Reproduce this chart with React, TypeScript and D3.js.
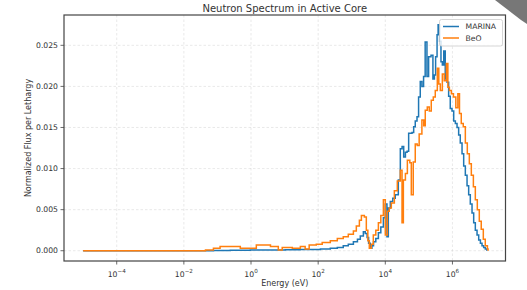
import React from 'react';
import * as d3 from 'd3';

const seriesNames = ['MARINA', 'BeO'];
const seriesColors = ['#1f77b4', '#ff7f0e'];

const marinaEnergy = [1e-5, 7.6e-2, 0.24, 0.95, 10.5, 29, 117, 230, 372, 560, 790, 1120, 1480, 1800, 2220, 2530, 2870, 3180, 3560, 3990, 4460, 5210, 6220, 7350, 8760, 1.0e4, 1.12e4, 1.23e4, 1.41e4, 1.67e4, 1.98e4, 2.44e4, 2.8e4, 3.16e4, 3.53e4, 3.97e4, 4.45e4, 4.96e4, 6.25e4, 7.0e4, 7.8e4, 8.8e4, 9.8e4, 1.1e5, 1.23e5, 1.38e5, 1.54e5, 1.74e5, 1.95e5, 2.3e5, 2.62e5, 2.9e5, 3.15e5, 3.48e5, 3.74e5, 4.15e5, 4.55e5, 5.0e5, 5.5e5, 6.1e5, 6.9e5, 7.7e5, 8.6e5, 9.7e5, 1.09e6, 1.22e6, 1.37e6, 1.53e6, 1.71e6, 1.93e6, 2.16e6, 2.42e6, 2.72e6, 3.04e6, 3.4e6, 3.83e6, 4.29e6, 4.8e6, 5.4e6, 6.05e6, 6.8e6, 7.6e6, 8.5e6, 9.5e6, 1.05e7];
const marinaFlux = [0, 0.00003, 0.00006, 0.0001, 0.00012, 0.00016, 0.0002, 0.0003, 0.0004, 0.0006, 0.0008, 0.0011, 0.0014, 0.0018, 0.0023, 0.0021, 0.0016, 0.0009, 0.0003, 0.0006, 0.0011, 0.0015, 0.0022, 0.0029, 0.0040, 0.0057, 0.0017, 0.0052, 0.0060, 0.0064, 0.0068, 0.0086, 0.0124, 0.0127, 0.0114, 0.0120, 0.0121, 0.0143, 0.0144, 0.0151, 0.0158, 0.0163, 0.0187, 0.0206, 0.0200, 0.0212, 0.0254, 0.0212, 0.0236, 0.0238, 0.0209, 0.0214, 0.0236, 0.0263, 0.0275, 0.0255, 0.0230, 0.0226, 0.0243, 0.0209, 0.0205, 0.0188, 0.0173, 0.0170, 0.0158, 0.0155, 0.0150, 0.0141, 0.0131, 0.0118, 0.0103, 0.0092, 0.0079, 0.0068, 0.0057, 0.0046, 0.0034, 0.0025, 0.0019, 0.0013, 0.0009, 0.0006, 0.0004, 0.0002, 0];

const beoEnergy = [1e-5, 0.044, 0.076, 0.12, 0.48, 1.44, 3.8, 6.5, 8.5, 17, 29.5, 41, 54, 88, 132, 230, 372, 560, 790, 1120, 1370, 1690, 1940, 2380, 2720, 3020, 3340, 3830, 4390, 5210, 6220, 7350, 8760, 1.0e4, 1.15e4, 1.31e4, 1.51e4, 1.86e4, 2.28e4, 2.8e4, 3.15e4, 3.45e4, 3.97e4, 4.54e4, 5.37e4, 5.95e4, 6.8e4, 7.8e4, 8.9e4, 1.02e5, 1.23e5, 1.4e5, 1.55e5, 1.78e5, 2.04e5, 2.34e5, 2.69e5, 3.08e5, 3.54e5, 3.92e5, 4.35e5, 5.0e5, 5.7e5, 6.6e5, 7.3e5, 8.1e5, 9.3e5, 1.07e6, 1.26e6, 1.45e6, 1.62e6, 1.83e6, 2.1e6, 2.42e6, 2.77e6, 3.18e6, 3.65e6, 4.2e6, 4.8e6, 5.5e6, 6.3e6, 7.2e6, 8.3e6, 9.5e6, 1.1e7, 1.15e7];
const beoFlux = [0, 0.0001, 0.0003, 0.0005, 0.0003, 0.0007, 0.0005, 0.0001, 0.0004, 0.0003, 0.0005, 0.0002, 0.0007, 0.0008, 0.0010, 0.0012, 0.0015, 0.0017, 0.0020, 0.0024, 0.0030, 0.0037, 0.0043, 0.0041, 0.0025, 0.0012, 0.0003, 0.0008, 0.0019, 0.0025, 0.0034, 0.0043, 0.0062, 0.0019, 0.0048, 0.0052, 0.0058, 0.0073, 0.0085, 0.0098, 0.0034, 0.0086, 0.0094, 0.0110, 0.0107, 0.0068, 0.0108, 0.0130, 0.0128, 0.0142, 0.0159, 0.0152, 0.0171, 0.0175, 0.0170, 0.0183, 0.0187, 0.0195, 0.0222, 0.0203, 0.0195, 0.0215, 0.0207, 0.0228, 0.0199, 0.0195, 0.0191, 0.0187, 0.0174, 0.0191, 0.0167, 0.0155, 0.0151, 0.0131, 0.0118, 0.0106, 0.0092, 0.0078, 0.0062, 0.0050, 0.0036, 0.0026, 0.0014, 0.0006, 0.0002, 0];

const yTicks = [0, 0.005, 0.01, 0.015, 0.02, 0.025];
const xTickExponents = [-4, -2, 0, 2, 4, 6];

const FONT = '"DejaVu Sans", sans-serif';

function zip(e: number[], f: number[]): [number, number][] {
  const n = Math.min(e.length, f.length);
  const out: [number, number][] = [];
  for (let i = 0; i < n; i++) out.push([e[i], f[i]]);
  return out;
}

export default function App() {
  const W = 527, H = 290;
  const left = 64, right = 505.5, top = 15, bottom = 261;
  const x = d3.scaleLog().domain([Math.pow(10, -5.57), Math.pow(10, 7.58)]).range([left, right]);
  const y = d3.scaleLinear().domain([-0.00125, 0.02869]).range([bottom, top]);
  const line = d3.line<[number, number]>()
    .x(d => x(d[0]))
    .y(d => y(d[1]))
    .curve(d3.curveStepAfter);

  const series = [zip(marinaEnergy, marinaFlux), zip(beoEnergy, beoFlux)];
  const textColor = '#333';

  return (
    <svg width={W} height={H} style={{ position: 'absolute', left: 0, top: 0, background: '#fff' }} fontFamily={FONT}>
      <rect x={0} y={0} width={W} height={H} fill="#fff" />
      <text x={(left + right) / 2} y={12} textAnchor="middle" fontSize={10} fill={textColor}>Neutron Spectrum in Active Core</text>
      <defs>
        <clipPath id="plotclip">
          <rect x={left} y={top} width={right - left} height={bottom - top} />
        </clipPath>
      </defs>
      {/* grid */}
      {xTickExponents.map(e => (
        <line key={'gx' + e} x1={x(Math.pow(10, e))} x2={x(Math.pow(10, e))} y1={top} y2={bottom}
          stroke="#b0b0b0" strokeOpacity={0.35} strokeWidth={0.8} strokeDasharray="2.5,2" />
      ))}
      {yTicks.map(t => (
        <line key={'gy' + t} x1={left} x2={right} y1={y(t)} y2={y(t)}
          stroke="#b0b0b0" strokeOpacity={0.35} strokeWidth={0.8} strokeDasharray="2.5,2" />
      ))}
      {/* lines */}
      <g clipPath="url(#plotclip)">
        {series.map((s, i) => (
          <path key={i} d={line(s) || ''} fill="none" stroke={seriesColors[i]} strokeWidth={1.5} strokeLinejoin="miter" />
        ))}
      </g>
      {/* frame */}
      <rect x={left} y={top} width={right - left} height={bottom - top} fill="none" stroke="#444" strokeWidth={1.2} />
      {/* y ticks */}
      {yTicks.map(t => (
        <g key={'yt' + t}>
          <line x1={left - 3.5} x2={left} y1={y(t)} y2={y(t)} stroke="#444" strokeWidth={0.8} />
          <text x={left - 6} y={y(t)} textAnchor="end" dominantBaseline="central" fontSize={7.7} fill={textColor}>{t.toFixed(3)}</text>
        </g>
      ))}
      {/* x ticks */}
      {xTickExponents.map(e => {
        const px = x(Math.pow(10, e));
        const label = e < 0 ? '\u2212' + Math.abs(e) : String(e);
        return (
          <g key={'xt' + e}>
            <line x1={px} x2={px} y1={bottom} y2={bottom + 3.5} stroke="#444" strokeWidth={0.8} />
            <text x={px} y={276.5} textAnchor="middle" fontSize={7.7} fill={textColor}>
              10<tspan fontSize={5.6} dy={-3.8}>{label}</tspan>
            </text>
          </g>
        );
      })}
      <text x={(left + right) / 2} y={286} textAnchor="middle" fontSize={8} fill={textColor}>Energy (eV)</text>
      <text transform={`translate(30.5, ${(top + bottom) / 2}) rotate(-90)`} textAnchor="middle" fontSize={8} fill={textColor}>Normalized Flux per Lethargy</text>
      {/* legend */}
      <g>
        <rect x={439.5} y={19.5} width={63} height={26.5} rx={2} fill="#fff" fillOpacity={0.8} stroke="#ccc" strokeWidth={0.8} />
        {seriesNames.map((n, i) => (
          <g key={n}>
            <line x1={443} x2={459} y1={26.5 + i * 11.5} y2={26.5 + i * 11.5} stroke={seriesColors[i]} strokeWidth={1.5} />
            <text x={465.5} y={26.5 + i * 11.5} dominantBaseline="central" fontSize={7.7} fill={textColor}>{n}</text>
          </g>
        ))}
      </g>
      {/* page-corner artifact */}
      <polygon points="495,0 527,0 527,24 521,20" fill="#777" />
    </svg>
  );
}
